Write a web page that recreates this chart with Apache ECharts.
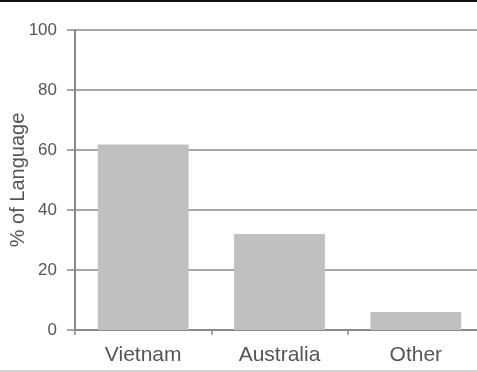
<!DOCTYPE html>
<html>
<head>
<meta charset="utf-8">
<script src="https://cdn.jsdelivr.net/npm/echarts@6/dist/echarts.min.js"></script>
<style>html,body{margin:0;padding:0;background:#fff}#c{width:477px;height:372px}</style>
</head>
<body>
<div id="c"></div>
<script>
const categories = ["Vietnam", "Australia", "Other"];
const values = [61.8, 32, 6];
const yTicks = [0, 20, 40, 60, 80, 100];

const chart = echarts.init(document.getElementById('c'), null, {renderer: 'canvas'});
chart.setOption({
  animation: false,
  textStyle: {fontFamily: 'Liberation Sans, Arial, sans-serif'},
  grid: {left: 75, right: -7, top: 30, bottom: 42, containLabel: false, outerBoundsMode: 'none'},
  graphic: [
    {type: 'rect', shape: {x: 0, y: 0, width: 477, height: 2}, style: {fill: '#111'}},
    {type: 'rect', shape: {x: 0, y: 370, width: 477, height: 2}, style: {fill: '#d0d0d0'}}
  ],
  xAxis: {
    type: 'category',
    data: categories,
    boundaryGap: true,
    axisLine: {lineStyle: {color: '#8a8a8a', width: 2}},
    axisTick: {show: true, length: 5, alignWithLabel: false, lineStyle: {color: '#8a8a8a', width: 1.5}},
    axisLabel: {color: '#555', fontSize: 21, margin: 15}
  },
  yAxis: {
    type: 'value',
    min: yTicks[0],
    max: yTicks[yTicks.length - 1],
    interval: 20,
    name: '% of Language',
    nameLocation: 'middle',
    nameRotate: 90,
    nameGap: 47,
    nameMoveOverlap: false,
    nameTextStyle: {color: '#555', fontSize: 20},
    axisLine: {show: true, lineStyle: {color: '#8a8a8a', width: 2}},
    axisTick: {show: true, length: 8, lineStyle: {color: '#8a8a8a', width: 1.5}},
    axisLabel: {color: '#555', fontSize: 17, margin: 18},
    splitLine: {show: true, lineStyle: {color: '#8a8a8a', width: 1.5}}
  },
  series: [{
    type: 'bar',
    data: values,
    barWidth: '66.6%',
    itemStyle: {color: '#c0c0c0'}
  }]
});
</script>
</body>
</html>
